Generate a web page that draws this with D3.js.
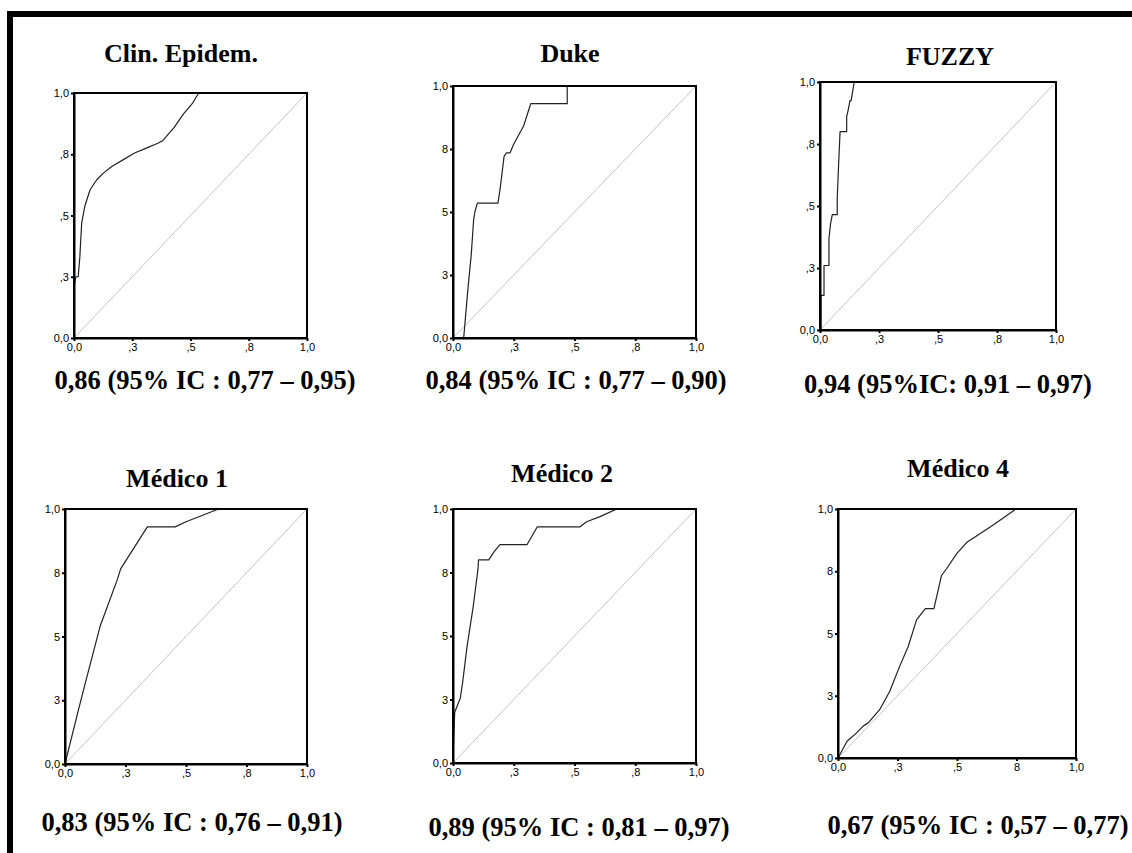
<!DOCTYPE html>
<html>
<head>
<meta charset="utf-8">
<script src="https://cdn.jsdelivr.net/npm/d3@7"></script>
<style>
  html, body { margin: 0; padding: 0; background: #fff; }
  svg { display: block; }
</style>
</head>
<body>
<svg id="chart" width="1132" height="853"></svg>
<script>
// ROC curves: 1 - specificity (x) vs sensitivity (y)
const titles = ["Clin. Epidem.", "Duke", "FUZZY", "Médico 1", "Médico 2", "Médico 4"];
const aucLabels = [
  "0,86 (95% IC : 0,77 – 0,95)",
  "0,84 (95% IC : 0,77 – 0,90)",
  "0,94 (95%IC: 0,91 – 0,97)",
  "0,83 (95% IC : 0,76 – 0,91)",
  "0,89 (95% IC : 0,81 – 0,97)",
  "0,67 (95% IC : 0,57 – 0,77)"
];

const clinFpr = [0, 0, 0.008, 0.018, 0.025, 0.033, 0.047, 0.069, 0.097, 0.126, 0.162, 0.212, 0.26, 0.31, 0.36, 0.38, 0.43, 0.47, 0.51, 0.535, 1];
const clinTpr = [0, 0.21, 0.25, 0.25, 0.33, 0.47, 0.54, 0.605, 0.645, 0.673, 0.70, 0.728, 0.755, 0.775, 0.795, 0.805, 0.86, 0.915, 0.96, 1.0, 1.0];

const dukeFpr = [0, 0.044, 0.06, 0.075, 0.085, 0.09, 0.10, 0.185, 0.195, 0.21, 0.22, 0.235, 0.25, 0.29, 0.31, 0.32, 0.47, 0.47, 1];
const dukeTpr = [0, 0, 0.18, 0.33, 0.47, 0.50, 0.535, 0.535, 0.60, 0.72, 0.735, 0.735, 0.77, 0.84, 0.90, 0.93, 0.93, 1.0, 1.0];

const fuzzyFpr = [0, 0.004, 0.004, 0.017, 0.017, 0.038, 0.038, 0.045, 0.052, 0.073, 0.073, 0.079, 0.085, 0.113, 0.113, 0.12, 0.127, 0.132, 0.138, 0.145, 1];
const fuzzyTpr = [0, 0, 0.14, 0.14, 0.26, 0.26, 0.37, 0.43, 0.465, 0.465, 0.53, 0.67, 0.80, 0.80, 0.86, 0.89, 0.925, 0.925, 0.96, 1.0, 1.0];

const med1Fpr = [0, 0.055, 0.09, 0.145, 0.215, 0.23, 0.34, 0.455, 0.50, 0.635, 1];
const med1Tpr = [0, 0.21, 0.34, 0.54, 0.72, 0.765, 0.93, 0.93, 0.95, 1.0, 1.0];

const med2Fpr = [0, 0.003, 0.007, 0.03, 0.04, 0.058, 0.083, 0.103, 0.105, 0.147, 0.168, 0.193, 0.305, 0.347, 0.523, 0.55, 0.605, 0.674, 1];
const med2Tpr = [0, 0.105, 0.20, 0.255, 0.32, 0.46, 0.615, 0.765, 0.80, 0.80, 0.83, 0.86, 0.86, 0.93, 0.93, 0.95, 0.97, 1.0, 1.0];

const med4Fpr = [0, 0.038, 0.077, 0.108, 0.126, 0.175, 0.217, 0.259, 0.295, 0.33, 0.367, 0.403, 0.435, 0.456, 0.498, 0.54, 0.582, 0.652, 0.748, 1];
const med4Tpr = [0, 0.067, 0.10, 0.13, 0.14, 0.194, 0.267, 0.368, 0.448, 0.555, 0.60, 0.60, 0.733, 0.76, 0.82, 0.865, 0.892, 0.936, 1.0, 1.0];

const tickValues = [0, 0.25, 0.5, 0.75, 1];
const tickLabelsFull = ["0,0", ",3", ",5", ",8", "1,0"];
const tickLabelsBare = ["0,0", "3", "5", "8", "1,0"];
const tickLabelsMed4X = ["0,0", ",3", ",5", "8", "1,0"];

const curves = [
  [clinFpr, clinTpr], [dukeFpr, dukeTpr], [fuzzyFpr, fuzzyTpr],
  [med1Fpr, med1Tpr], [med2Fpr, med2Tpr], [med4Fpr, med4Tpr]
];
const yTickSets = [tickLabelsFull, tickLabelsBare, tickLabelsFull, tickLabelsBare, tickLabelsBare, tickLabelsBare];
const xTickSets = [tickLabelsFull, tickLabelsFull, tickLabelsFull, tickLabelsFull, tickLabelsFull, tickLabelsMed4X];

// panel placement: plot box, title and caption anchors
const layout = [
  { x0: 74,  x1: 307,  y0: 93,  y1: 338, tx: 181, ty: 62,  lx: 205, ly: 389 },
  { x0: 453, x1: 696,  y0: 86,  y1: 338, tx: 570, ty: 62,  lx: 576, ly: 389 },
  { x0: 820, x1: 1056, y0: 82,  y1: 330, tx: 950, ty: 65,  lx: 948, ly: 393 },
  { x0: 65,  x1: 307,  y0: 509, y1: 764, tx: 177, ty: 487, lx: 192, ly: 831 },
  { x0: 453, x1: 696,  y0: 509, y1: 763, tx: 562, ty: 482, lx: 579, ly: 836 },
  { x0: 838, x1: 1076, y0: 509, y1: 758, tx: 958, ty: 477, lx: 978, ly: 834 }
];

const svg = d3.select("#chart");

// page frame: heavy rule along top and left
svg.append("rect").attr("x", 7).attr("y", 11).attr("width", 1132 - 7).attr("height", 6).attr("fill", "#000");
svg.append("rect").attr("x", 7).attr("y", 11).attr("width", 6).attr("height", 853 - 11).attr("fill", "#000");

titles.forEach((title, i) => {
  const L = layout[i];
  const [fpr, tpr] = curves[i];
  const x = d3.scaleLinear().domain([0, 1]).range([L.x0, L.x1]);
  const y = d3.scaleLinear().domain([0, 1]).range([L.y1, L.y0]);
  const g = svg.append("g");

  // reference diagonal
  g.append("line")
    .attr("x1", x(0)).attr("y1", y(0)).attr("x2", x(1)).attr("y2", y(1))
    .attr("stroke", "#c4c4c4").attr("stroke-width", 1);

  // ROC curve
  const pts = fpr.map((v, k) => [v, tpr[k]]);
  g.append("path")
    .datum(pts)
    .attr("fill", "none")
    .attr("stroke", "#222")
    .attr("stroke-width", 1.2)
    .attr("stroke-linejoin", "round")
    .attr("d", d3.line().x(d => x(d[0])).y(d => y(d[1])));

  // plot frame
  g.append("rect")
    .attr("x", L.x0).attr("y", L.y0)
    .attr("width", L.x1 - L.x0).attr("height", L.y1 - L.y0)
    .attr("fill", "none").attr("stroke", "#000").attr("stroke-width", 2);

  const yLab = yTickSets[i], xLab = xTickSets[i];
  const yAxis = d3.axisLeft(y).tickValues(tickValues)
    .tickFormat((d, k) => yLab[k]).tickSize(3).tickSizeOuter(0).tickPadding(2);
  const xAxis = d3.axisBottom(x).tickValues(tickValues)
    .tickFormat((d, k) => xLab[k]).tickSize(3).tickSizeOuter(0).tickPadding(2);

  const ya = g.append("g").attr("transform", `translate(${L.x0},0)`).call(yAxis);
  const xa = g.append("g").attr("transform", `translate(0,${L.y1})`).call(xAxis);
  [ya, xa].forEach(a => {
    a.select(".domain").attr("stroke", "#000").attr("stroke-width", 2);
    a.selectAll(".tick line").attr("stroke", "#000").attr("stroke-width", 2);
    a.selectAll(".tick text")
      .attr("fill", "#000")
      .style("font-family", "'Liberation Sans', Arial, sans-serif")
      .style("font-size", "11px");
  });

  // panel title
  g.append("text")
    .attr("x", L.tx).attr("y", L.ty)
    .attr("text-anchor", "middle")
    .style("font-family", "'Liberation Serif', 'Times New Roman', serif")
    .style("font-weight", "bold")
    .style("font-size", "26px")
    .text(title);

  // area under curve with confidence interval
  g.append("text")
    .attr("x", L.lx).attr("y", L.ly)
    .attr("text-anchor", "middle")
    .style("font-family", "'Liberation Serif', 'Times New Roman', serif")
    .style("font-weight", "bold")
    .style("font-size", "26.5px")
    .text(aucLabels[i]);
});
</script>
</body>
</html>
